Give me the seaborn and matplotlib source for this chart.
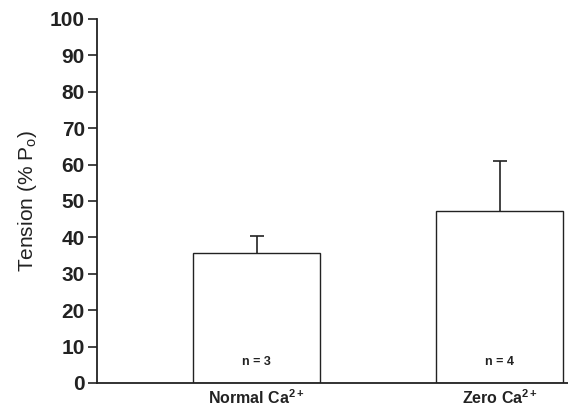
import numpy as np
import matplotlib
matplotlib.use('Agg')
import matplotlib.pyplot as plt
import seaborn as sns

# Data
categories = ['Normal Ca$^{\\mathbf{2+}}$', 'Zero Ca$^{\\mathbf{2+}}$']
tension = [35.6, 47.3]          # % Po
tension_err = [4.9, 13.7]       # upper error only
n_labels = ['n = 3', 'n = 4']

sns.set_style('ticks')
plt.rcParams['font.family'] = ['Liberation Sans', 'DejaVu Sans']
plt.rcParams['mathtext.fontset'] = 'custom'
plt.rcParams['mathtext.rm'] = 'Liberation Sans'
plt.rcParams['mathtext.bf'] = 'Liberation Sans:bold'
plt.rcParams['mathtext.it'] = 'Liberation Sans:italic'

fig = plt.figure(figsize=(5.68, 4.12), dpi=100)
ax = fig.add_axes([0.170, 0.0704, 0.830, 0.8836])

sns.barplot(x=categories, y=tension, color='white', edgecolor='#222222',
            linewidth=1.0, width=0.523, errorbar=None, ax=ax)
for p in ax.patches:
    p.set_facecolor('white')

xpos = np.arange(len(categories))
eb = ax.errorbar(xpos, tension, yerr=[np.zeros(len(tension)), tension_err],
                 fmt='none', ecolor='#222222', elinewidth=1.2, capsize=4.7,
                 capthick=1.2)
eb[1][0].set_visible(False)  # hide lower cap, only upper SE shown

for x, lab in zip(xpos, n_labels):
    ax.text(x, 5.9, lab, ha='center', va='center', fontsize=9,
            fontweight='bold', color='#222222')

ax.set_xlim(-0.659, 1.282)
ax.set_ylim(0, 100)
ax.set_yticks(np.arange(0, 101, 10))
ax.tick_params(axis='y', labelsize=15, length=6.5, width=1.2, colors='#222222',
               pad=2)
for t in ax.get_yticklabels():
    t.set_fontweight('bold')
ax.tick_params(axis='x', length=0, labelsize=11.5, pad=4, colors='#222222')
for t in ax.get_xticklabels():
    t.set_fontweight('bold')

ax.set_ylabel('Tension (% P$_\\mathrm{o}$)', fontsize=15, color='#222222')
ax.yaxis.set_label_coords(-0.122, 0.5)

sns.despine(ax=ax)
for s in ['left', 'bottom']:
    ax.spines[s].set_linewidth(1.3)
    ax.spines[s].set_color('#222222')

fig.savefig('out.png', dpi=100)
